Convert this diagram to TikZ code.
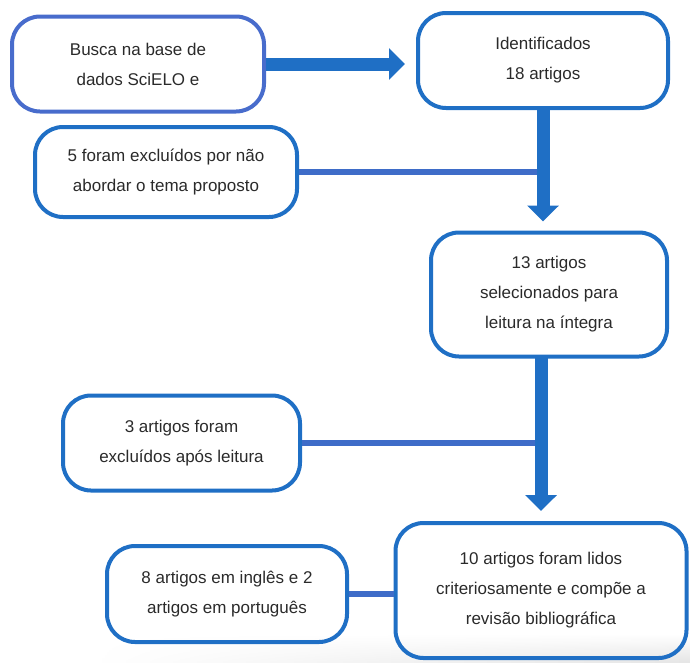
\documentclass[tikz,border=0pt]{standalone}
\usepackage{fontspec}
\setmainfont{Liberation Sans}
\usetikzlibrary{arrows.meta,calc,fadings}
\definecolor{mainblue}{RGB}{31,111,197}
\definecolor{firstblue}{RGB}{72,108,204}
\definecolor{connblue}{RGB}{62,108,200}
\definecolor{txt}{RGB}{42,42,42}
\tikzfading[name=fadeleftside, left color=transparent!100, middle color=transparent!0, right color=transparent!0]
\tikzset{
  flowbox/.style={draw=mainblue, line width=4pt, rounded corners=28pt, align=center,
    text=txt, font=\fontsize{17}{30}\selectfont, inner sep=0pt},
  bigarrow/.style={draw=mainblue, line width=13pt, -{Triangle[width=31pt,length=16pt]}},
  conn/.style={draw=connblue, line width=6pt},
}
\begin{document}
\begin{tikzpicture}[x=1pt,y=-1pt]
\useasboundingbox (0,0) rectangle (690,662);
\shade[top color=white, bottom color=black!10, path fading=fadeleftside] (90,634) rectangle (690,662);
\node[flowbox, draw=firstblue, minimum width=252pt, minimum height=95pt] (b1) at (138,64) {Busca na base de\\dados SciELO e};
\node[flowbox, minimum width=250pt, minimum height=95pt] (b2) at (543,60.5) {Identificados\\18 artigos};
\node[flowbox, minimum width=262pt, minimum height=90pt] (b3) at (166,172) {5 foram excluídos por não\\abordar o tema proposto};
\node[flowbox, minimum width=236pt, minimum height=124pt] (b4) at (549,294.5) {13 artigos\\selecionados para\\leitura na íntegra};
\node[flowbox, minimum width=237pt, minimum height=95pt] (b5) at (181.5,443) {3 artigos foram\\excluídos após leitura};
\node[flowbox, minimum width=291pt, minimum height=135pt] (b6) at (541,590.5) {10 artigos foram lidos\\criteriosamente e compõe a\\revisão bibliográfica};
\node[flowbox, minimum width=240pt, minimum height=96pt] (b7) at (227,594) {8 artigos em inglês e 2\\artigos em português};
% connectors
\draw[conn] (b3.east) -- (b3.east -| b2.south);
\draw[conn] (b5.east) -- (b5.east -| b6.north);
\draw[conn] (b7.east) -- (b7.east -| b6.west);
% arrows
\draw[bigarrow] (b1.east) -- ([xshift=-11pt] b1.east -| b2.west);
\draw[bigarrow] ([yshift=2pt] b2.south) -- ([yshift=9pt] b2.south |- b4.north);
\draw[bigarrow] ([yshift=2pt] b6.north |- b4.south) -- ([yshift=10pt] b6.north);
\end{tikzpicture}
\end{document}
